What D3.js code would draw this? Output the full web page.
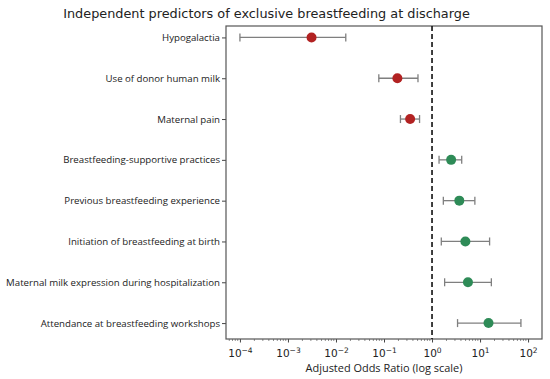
<!DOCTYPE html>
<html>
<head>
<meta charset="utf-8">
<script src="https://cdn.jsdelivr.net/npm/d3@7"></script>
<style>
  body { margin: 0; background: #fff; }
  text { fill: #222; }
</style>
</head>
<body>
<div id="chart"></div>
<script>
// predictors, top to bottom
var predictors = [
    "Hypogalactia",
    "Use of donor human milk",
    "Maternal pain",
    "Breastfeeding-supportive practices",
    "Previous breastfeeding experience",
    "Initiation of breastfeeding at birth",
    "Maternal milk expression during hospitalization",
    "Attendance at breastfeeding workshops"
];
var oddsRatio = [0.0031, 0.19, 0.35, 2.5, 3.7, 4.95, 5.6, 15];
var ciLow = [0.0001, 0.078, 0.22, 1.4, 1.72, 1.56, 1.83, 3.4];
var ciHigh = [0.016, 0.51, 0.55, 4.15, 7.8, 15.8, 17.2, 71];
var xTicks = [1e-4, 1e-3, 1e-2, 1e-1, 1, 10, 100];

var svgWidth = 550;
var svgHeight = 379;

var margin = { top: 26, right: 8, bottom: 40, left: 226 };
var width = svgWidth - margin.left - margin.right;
var height = svgHeight - margin.top - margin.bottom;

var svg = d3.select("#chart")
    .append("svg")
    .attr("width", svgWidth)
    .attr("height", svgHeight)
    .style("font-family", "'DejaVu Sans', sans-serif");

var chartGroup = svg.append("g")
    .attr("transform", `translate(${margin.left}, ${margin.top})`);

var data = predictors.map(function (p, i) {
    return { name: p, or: oddsRatio[i], lo: ciLow[i], hi: ciHigh[i] };
});

var xScale = d3.scaleLog()
    .domain([Math.pow(10, -4.29), Math.pow(10, 2.29)])
    .range([0, width]);

var yScale = d3.scaleLinear()
    .domain([-0.28, predictors.length - 1 + 0.39])
    .range([0, height]);

// minor ticks
var minor = [];
for (var e = -5; e <= 2; e++) {
    for (var m = 2; m <= 9; m++) {
        var v = m * Math.pow(10, e);
        if (v > xScale.domain()[0] && v < xScale.domain()[1]) minor.push(v);
    }
}
chartGroup.append("g")
    .attr("transform", `translate(0, ${height})`)
    .selectAll("line")
    .data(minor)
    .enter()
    .append("line")
    .attr("x1", d => xScale(d))
    .attr("x2", d => xScale(d))
    .attr("y1", 0)
    .attr("y2", 2)
    .attr("stroke", "#444")
    .attr("stroke-width", 0.6);

var bottomAxis = d3.axisBottom(xScale)
    .tickValues(xTicks)
    .tickFormat("")
    .tickSize(3.5);

var xAxisG = chartGroup.append("g")
    .attr("transform", `translate(0, ${height})`)
    .call(bottomAxis);
xAxisG.select(".domain").remove();
xAxisG.selectAll("line").attr("stroke", "#444");

// tick labels 10^n with real superscripts
xAxisG.selectAll(".tick").each(function (d) {
    var t = d3.select(this).append("text")
        .attr("y", 18)
        .attr("text-anchor", "middle")
        .attr("fill", "#222")
        .style("font-size", "10.5px")
        .style("font-family", "'DejaVu Sans', sans-serif");
    t.append("tspan").text("10");
    t.append("tspan")
        .attr("dy", -4.5)
        .style("font-size", "7.5px")
        .text(Math.round(Math.log10(d)).toString().replace("-", "\u2212"));
});

var leftAxis = d3.axisLeft(yScale)
    .tickValues(d3.range(predictors.length))
    .tickFormat(i => predictors[i])
    .tickSize(4)
    .tickPadding(2);

var yAxisG = chartGroup.append("g").call(leftAxis);
yAxisG.select(".domain").remove();
var yLabels = yAxisG.selectAll("text")
    .style("font-size", "10px")
    .style("font-family", "'Open Sans', sans-serif")
    .attr("fill", "#222");
yAxisG.selectAll("line").attr("stroke", "#444");

// fit longest label to reference width (about 214px)
var maxW = d3.max(yLabels.nodes(), n => n.getComputedTextLength());
yLabels.style("font-size", (10 * 214 / maxW).toFixed(2) + "px");

// frame
chartGroup.append("rect")
    .attr("width", width)
    .attr("height", height)
    .attr("fill", "none")
    .attr("stroke", "#555")
    .attr("stroke-width", 1.2);

// reference line at OR = 1
chartGroup.append("line")
    .attr("x1", xScale(1))
    .attr("x2", xScale(1))
    .attr("y1", 0)
    .attr("y2", height)
    .attr("stroke", "#111")
    .attr("stroke-width", 1.6)
    .attr("stroke-dasharray", "5,3");

// error bars
var bars = chartGroup.selectAll(".ci")
    .data(data)
    .enter()
    .append("g")
    .attr("class", "ci");

bars.append("line")
    .attr("x1", d => xScale(d.lo))
    .attr("x2", d => xScale(d.hi))
    .attr("y1", (d, i) => yScale(i))
    .attr("y2", (d, i) => yScale(i))
    .attr("stroke", "#7f7f7f")
    .attr("stroke-width", 1.3);

["lo", "hi"].forEach(function (k) {
    bars.append("line")
        .attr("x1", d => xScale(d[k]))
        .attr("x2", d => xScale(d[k]))
        .attr("y1", (d, i) => yScale(i) - 4)
        .attr("y2", (d, i) => yScale(i) + 4)
        .attr("stroke", "#7f7f7f")
        .attr("stroke-width", 1.3);
});

chartGroup.selectAll("circle")
    .data(data)
    .enter()
    .append("circle")
    .attr("cx", d => xScale(d.or))
    .attr("cy", (d, i) => yScale(i))
    .attr("r", 5)
    .attr("fill", d => d.or < 1 ? "#b22222" : "#2e8b57");

// title
var title = svg.append("text")
    .attr("x", 266.5)
    .attr("y", 18)
    .attr("text-anchor", "middle")
    .style("font-size", "15px")
    .attr("fill", "#111")
    .text("Independent predictors of exclusive breastfeeding at discharge");

// fit title to reference width
var tw = title.node().getComputedTextLength();
title.style("font-size", (15 * 407 / tw).toFixed(2) + "px");

var xlab = svg.append("text")
    .attr("x", margin.left + width / 2)
    .attr("y", 372)
    .attr("text-anchor", "middle")
    .style("font-size", "11px")
    .style("font-family", "'Open Sans', sans-serif")
    .text("Adjusted Odds Ratio (log scale)");
var xw = xlab.node().getComputedTextLength();
xlab.style("font-size", (11 * 157 / xw).toFixed(2) + "px");
</script>
</body>
</html>
